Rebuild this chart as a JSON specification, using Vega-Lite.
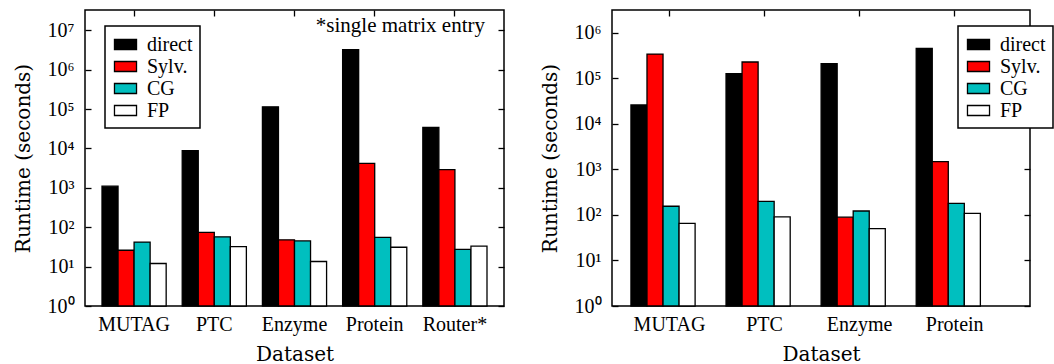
{
  "$schema": "https://vega.github.io/schema/vega-lite/v6.json",
  "padding": {"left": 12, "top": 8, "right": 0, "bottom": 0},
  "background": "white",
  "spacing": 33,
  "datasets": {
    "left": [
      {"Dataset": "MUTAG", "Method": "direct", "Runtime": 1100},
      {"Dataset": "MUTAG", "Method": "Sylv.", "Runtime": 26},
      {"Dataset": "MUTAG", "Method": "CG", "Runtime": 42},
      {"Dataset": "MUTAG", "Method": "FP", "Runtime": 12},
      {"Dataset": "PTC", "Method": "direct", "Runtime": 8800},
      {"Dataset": "PTC", "Method": "Sylv.", "Runtime": 74},
      {"Dataset": "PTC", "Method": "CG", "Runtime": 57},
      {"Dataset": "PTC", "Method": "FP", "Runtime": 32},
      {"Dataset": "Enzyme", "Method": "direct", "Runtime": 114000},
      {"Dataset": "Enzyme", "Method": "Sylv.", "Runtime": 48},
      {"Dataset": "Enzyme", "Method": "CG", "Runtime": 45},
      {"Dataset": "Enzyme", "Method": "FP", "Runtime": 13.5},
      {"Dataset": "Protein", "Method": "direct", "Runtime": 3200000},
      {"Dataset": "Protein", "Method": "Sylv.", "Runtime": 4200},
      {"Dataset": "Protein", "Method": "CG", "Runtime": 55},
      {"Dataset": "Protein", "Method": "FP", "Runtime": 31},
      {"Dataset": "Router*", "Method": "direct", "Runtime": 34000},
      {"Dataset": "Router*", "Method": "Sylv.", "Runtime": 2900},
      {"Dataset": "Router*", "Method": "CG", "Runtime": 27.5},
      {"Dataset": "Router*", "Method": "FP", "Runtime": 33}
    ],
    "right": [
      {"Dataset": "MUTAG", "Method": "direct", "Runtime": 26000},
      {"Dataset": "MUTAG", "Method": "Sylv.", "Runtime": 340000},
      {"Dataset": "MUTAG", "Method": "CG", "Runtime": 155},
      {"Dataset": "MUTAG", "Method": "FP", "Runtime": 65},
      {"Dataset": "PTC", "Method": "direct", "Runtime": 126000},
      {"Dataset": "PTC", "Method": "Sylv.", "Runtime": 228000},
      {"Dataset": "PTC", "Method": "CG", "Runtime": 199},
      {"Dataset": "PTC", "Method": "FP", "Runtime": 91},
      {"Dataset": "Enzyme", "Method": "direct", "Runtime": 209000},
      {"Dataset": "Enzyme", "Method": "Sylv.", "Runtime": 89},
      {"Dataset": "Enzyme", "Method": "CG", "Runtime": 122},
      {"Dataset": "Enzyme", "Method": "FP", "Runtime": 50},
      {"Dataset": "Protein", "Method": "direct", "Runtime": 455000},
      {"Dataset": "Protein", "Method": "Sylv.", "Runtime": 1480},
      {"Dataset": "Protein", "Method": "CG", "Runtime": 179},
      {"Dataset": "Protein", "Method": "FP", "Runtime": 108}
    ],
    "note": [
      {"Dataset": "Router*", "Runtime": 9300000, "label": "*single matrix entry"}
    ]
  },
  "config": {
    "font": "'Liberation Serif', serif",
    "view": {"stroke": "black", "strokeWidth": 1.5},
    "axis": {
      "grid": false,
      "domain": false,
      "tickColor": "black",
      "tickWidth": 1.3,
      "labelColor": "black",
      "titleColor": "black",
      "labelFont": "'Liberation Serif', serif",
      "labelFontSize": 20,
      "titleFont": "'DejaVu Serif', serif",
      "titleFontSize": 20,
      "titleFontWeight": "normal"
    },
    "legend": {
      "labelFont": "'Liberation Serif', serif",
      "labelFontSize": 20,
      "labelColor": "black",
      "strokeColor": "black",
      "strokeWidth": 1.5,
      "fillColor": "white",
      "padding": 7,
      "rowPadding": 0,
      "symbolOffset": 2,
      "labelOffset": 10,
      "cornerRadius": 0
    }
  },
  "hconcat": [
    {
      "width": 419,
      "height": 296,
      "data": {"name": "left"},
      "layer": [
        {
          "mark": {"type": "bar", "stroke": "black", "strokeWidth": 1.3},
          "encoding": {
            "x": {
              "field": "Dataset", "type": "nominal",
              "scale": {"domain": ["MUTAG", "PTC", "Enzyme", "Protein", "Router*"], "paddingInner": 0.2, "paddingOuter": 0.212, "align": 0.5},
              "axis": {"orient": "bottom", "title": "Dataset", "labelAngle": 0, "ticks": false, "labelPadding": 8, "titlePadding": 10}
            },
            "xOffset": {"field": "Method", "type": "nominal", "scale": {"domain": ["direct", "Sylv.", "CG", "FP"]}},
            "y": {
              "field": "Runtime", "type": "quantitative", "stack": null,
              "scale": {"type": "log", "domain": [1, 32700000], "nice": false},
              "axis": {
                "orient": "left", "title": "Runtime (seconds)",
                "values": [1, 10, 100, 1000, 10000, 100000, 1000000, 10000000],
                "labelExpr": "'10' + ['⁰','¹','²','³','⁴','⁵','⁶','⁷'][round(log(datum.value)/LN10)]",
                "tickSize": -6, "labelPadding": 17, "titlePadding": 14
              }
            },
            "y2": {"datum": 1},
            "color": {
              "field": "Method", "type": "nominal",
              "scale": {"domain": ["direct", "Sylv.", "CG", "FP"], "range": ["#000000", "#ff0000", "#00bfbf", "#ffffff"]},
              "legend": {
                "orient": "none", "legendX": 20, "legendY": 16, "title": null,
                "symbolType": "M-1.05,-0.476H1.05V0.476H-1.05Z", "symbolSize": 441,
                "symbolStrokeColor": "black", "symbolStrokeWidth": 1.3, "symbolOpacity": 1
              }
            }
          }
        },
        {
          "data": {"name": "note"},
          "mark": {"type": "text", "align": "right", "baseline": "alphabetic", "font": "'Liberation Serif', serif", "fontSize": 21, "dx": -2, "color": "black"},
          "encoding": {
            "x": {"field": "Dataset", "type": "nominal", "bandPosition": 1, "axis": null},
            "y": {"field": "Runtime", "type": "quantitative", "axis": null},
            "text": {"field": "label"}
          }
        },
        {
          "mark": {"type": "point", "opacity": 0},
          "encoding": {
            "x": {"field": "Dataset", "type": "nominal", "axis": {"orient": "top", "labels": false, "title": null, "tickSize": -6}},
            "y": {"field": "Runtime", "type": "quantitative", "axis": {"orient": "right", "labels": false, "title": null, "tickSize": -6, "values": [1, 10, 100, 1000, 10000, 100000, 1000000, 10000000]}}
          }
        }
      ],
      "resolve": {"axis": {"x": "independent", "y": "independent"}}
    },
    {
      "width": 418,
      "height": 296,
      "data": {"name": "right"},
      "layer": [
        {
          "mark": {"type": "bar", "stroke": "black", "strokeWidth": 1.3},
          "encoding": {
            "x": {
              "field": "Dataset", "type": "nominal",
              "scale": {"domain": ["MUTAG", "PTC", "Enzyme", "Protein"], "paddingInner": 0.19, "paddingOuter": 0.293, "align": 0.34},
              "axis": {"orient": "bottom", "title": "Dataset", "labelAngle": 0, "ticks": false, "labelPadding": 8, "titlePadding": 10}
            },
            "xOffset": {"field": "Method", "type": "nominal", "scale": {"domain": ["direct", "Sylv.", "CG", "FP"]}},
            "y": {
              "field": "Runtime", "type": "quantitative", "stack": null,
              "scale": {"type": "log", "domain": [1, 3160000], "nice": false},
              "axis": {
                "orient": "left", "title": "Runtime (seconds)",
                "values": [1, 10, 100, 1000, 10000, 100000, 1000000],
                "labelExpr": "'10' + ['⁰','¹','²','³','⁴','⁵','⁶','⁷'][round(log(datum.value)/LN10)]",
                "tickSize": -6, "labelPadding": 17, "titlePadding": 14
              }
            },
            "y2": {"datum": 1},
            "color": {
              "field": "Method", "type": "nominal",
              "scale": {"domain": ["direct", "Sylv.", "CG", "FP"], "range": ["#000000", "#ff0000", "#00bfbf", "#ffffff"]},
              "legend": {
                "orient": "none", "legendX": 346, "legendY": 16, "title": null,
                "symbolType": "M-1.05,-0.476H1.05V0.476H-1.05Z", "symbolSize": 441,
                "symbolStrokeColor": "black", "symbolStrokeWidth": 1.3, "symbolOpacity": 1
              }
            }
          }
        },
        {
          "mark": {"type": "point", "opacity": 0},
          "encoding": {
            "x": {"field": "Dataset", "type": "nominal", "axis": {"orient": "top", "labels": false, "title": null, "tickSize": -6}},
            "y": {"field": "Runtime", "type": "quantitative", "axis": {"orient": "right", "labels": false, "title": null, "tickSize": -6, "values": [1, 10, 100, 1000, 10000, 100000, 1000000]}}
          }
        }
      ],
      "resolve": {"axis": {"x": "independent", "y": "independent"}}
    }
  ],
  "resolve": {"scale": {"color": "independent"}, "legend": {"color": "independent"}}
}
